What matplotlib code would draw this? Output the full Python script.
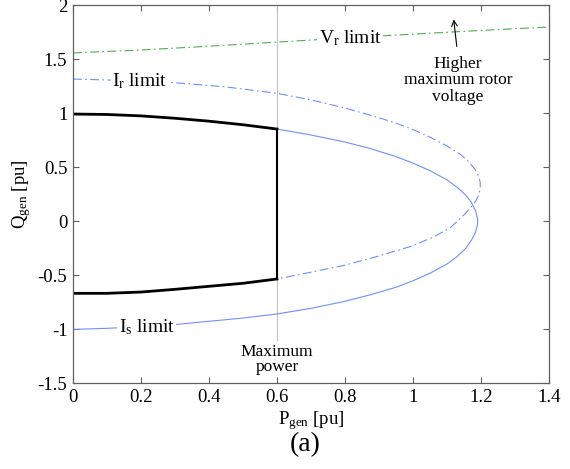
import matplotlib
matplotlib.use('Agg')
import matplotlib.pyplot as plt

plt.rcParams['font.family'] = ['Liberation Serif', 'DejaVu Serif']
plt.rcParams['mathtext.fontset'] = 'custom'
plt.rcParams['mathtext.rm'] = 'Liberation Serif'
plt.rcParams['mathtext.it'] = 'Liberation Serif:italic'

# stator current limit (solid blue)
is_p = [0, 0.1, 0.2, 0.3, 0.4, 0.5, 0.6, 0.7, 0.8, 0.874, 0.95, 1.0, 1.05, 1.1,
        1.13, 1.155, 1.172, 1.184, 1.19, 1.19, 1.184, 1.172, 1.155, 1.13, 1.1, 1.05,
        1.0, 0.95, 0.874, 0.8, 0.7, 0.6, 0.5, 0.4, 0.3, 0.2, 0.1, 0]
is_q = [0.994, 0.99, 0.977, 0.955, 0.928, 0.895, 0.855, 0.80, 0.735, 0.675, 0.60, 0.54,
        0.47, 0.385, 0.315, 0.245, 0.175, 0.10, 0.03, -0.03, -0.10, -0.175, -0.25,
        -0.325, -0.395, -0.48, -0.55, -0.61, -0.68, -0.74, -0.805, -0.857, -0.895,
        -0.925, -0.955, -0.975, -0.99, -1.0]

# rotor current limit (dash-dot blue)
ir_p = [0, 0.15, 0.3, 0.45, 0.6, 0.7, 0.8, 0.9, 0.95, 1.0, 1.05, 1.1, 1.14, 1.165,
        1.183, 1.193, 1.198, 1.198, 1.193, 1.183, 1.168, 1.15, 1.13, 1.109, 1.06, 1.0,
        0.9, 0.8, 0.7, 0.6, 0.5, 0.4, 0.3, 0.2, 0.1, 0]
ir_q = [1.318, 1.305, 1.284, 1.245, 1.186, 1.125, 1.05, 0.96, 0.91, 0.85, 0.78, 0.70,
        0.62, 0.55, 0.48, 0.42, 0.36, 0.30, 0.24, 0.18, 0.12, 0.06, 0.0, -0.06, -0.145,
        -0.225, -0.32, -0.405, -0.47, -0.533, -0.573, -0.601, -0.629, -0.654, -0.666, -0.666]

# rotor voltage limit (dash-dot green)
vr_p = [0, 0.2, 0.4, 0.6, 0.8, 1.0, 1.2, 1.4]
vr_q = [1.56, 1.587, 1.622, 1.66, 1.698, 1.734, 1.768, 1.80]

# operating region (black)
reg_p = [0, 0.1, 0.2, 0.3, 0.4, 0.5, 0.6]
reg_top = [0.994, 0.99, 0.977, 0.955, 0.928, 0.895, 0.855]
reg_bot = [-0.666, -0.666, -0.654, -0.629, -0.601, -0.573, -0.533]
p_max = 0.6

fig = plt.figure(figsize=(5.7, 4.69), dpi=100)
ax = fig.add_axes([0.128, 0.1825, 0.835, 0.806])

blue = '#6f8fff'
ax.plot([p_max, p_max], [-1.1, 2], color='#c0c0c0', lw=0.8)
ax.plot(vr_p, vr_q, color='#4caf50', lw=0.8, dashes=(8, 3, 1.5, 3))
ax.plot(ir_p, ir_q, color=blue, lw=0.8, dashes=(8, 3, 1.5, 3))
ax.plot(is_p, is_q, color=blue, lw=0.8)
ax.plot(reg_p, reg_top, color='black', lw=2)
ax.plot(reg_p, reg_bot, color='black', lw=2)
ax.plot([p_max, p_max], [reg_top[-1], reg_bot[-1]], color='black', lw=1.5)

box = dict(facecolor='white', edgecolor='none', pad=1)
ax.text(0.815, 1.70, r'V$_\mathrm{r}$ limit', fontsize=14, ha='center', va='center', bbox=box)
ax.text(0.197, 1.30, r'I$_\mathrm{r}$ limit', fontsize=14, ha='center', va='center', bbox=box)
ax.text(0.217, -0.98, r'I$_\mathrm{s}$ limit', fontsize=14, ha='center', va='center', bbox=box)
ax.text(0.6, -1.135, 'Maximum\npower', fontsize=12.5, ha='center', va='top', linespacing=0.95)
ax.text(1.132, 1.535, 'Higher\nmaximum rotor\nvoltage', fontsize=12.5, ha='center', va='top',
        linespacing=1.05)
ax.annotate('', xy=(1.12, 1.87), xytext=(1.129, 1.62),
            arrowprops=dict(arrowstyle='->', lw=0.8, color='black', shrinkA=0, shrinkB=0))

ax.set_xlim(0, 1.4)
ax.set_ylim(-1.5, 2)
ax.set_xticks([0, 0.2, 0.4, 0.6, 0.8, 1, 1.2, 1.4])
ax.set_xticklabels(['0', '0.2', '0.4', '0.6', '0.8', '1', '1.2', '1.4'])
ax.set_yticks([-1.5, -1, -0.5, 0, 0.5, 1, 1.5, 2])
ax.set_yticklabels(['-1.5', '-1', '-0.5', '0', '0.5', '1', '1.5', '2'])
ax.tick_params(direction='in', top=True, right=True, length=4, width=0.8,
               color='#606060', labelsize=13.5, pad=4)
for s in ax.spines.values():
    s.set_color('#606060')
    s.set_linewidth(0.9)

ax.set_xlabel(r'P$_\mathrm{gen}$ [pu]', fontsize=13.5, labelpad=2)
ax.set_ylabel(r'Q$_\mathrm{gen}$ [pu]', fontsize=13.5, labelpad=3)
fig.text(0.535, 0.052, '(a)', fontsize=20, ha='center', va='center')

fig.savefig('out.png', dpi=100)
